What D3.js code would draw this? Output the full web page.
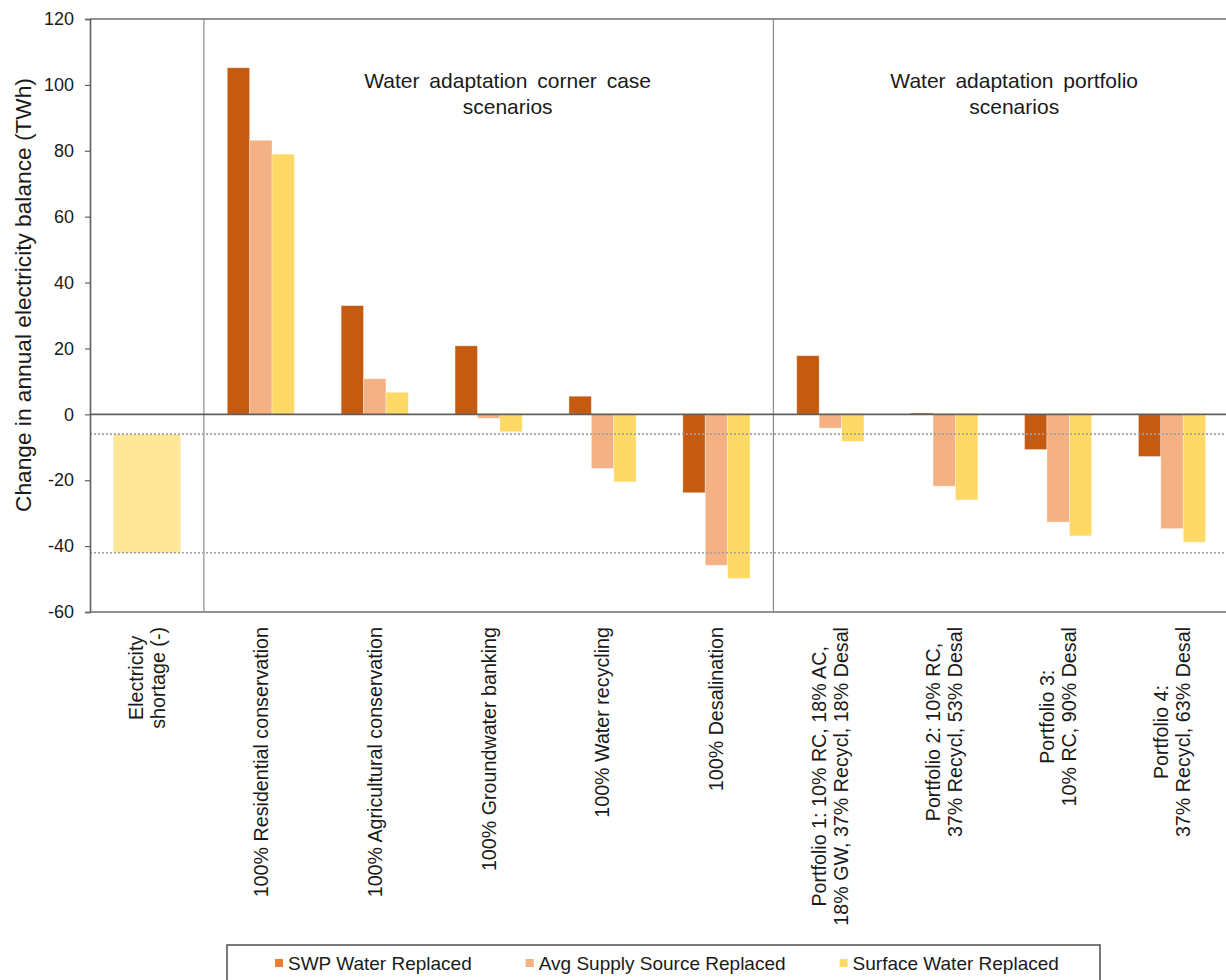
<!DOCTYPE html>
<html>
<head>
<meta charset="utf-8">
<script src="https://cdn.jsdelivr.net/npm/d3@7"></script>
<style>
  html, body { margin: 0; padding: 0; background: #fff; }
  svg { display: block; font-family: "Liberation Sans", Arial, sans-serif; }
</style>
</head>
<body>
<svg id="chart" width="1226" height="980"></svg>
<script>
// Scenario categories (each entry is the list of label lines)
const categories = [
  ["Electricity", "shortage (-)"],
  ["100% Residential conservation"],
  ["100% Agricultural conservation"],
  ["100% Groundwater banking"],
  ["100% Water recycling"],
  ["100% Desalination"],
  ["Portfolio 1: 10% RC, 18% AC,", "18% GW, 37% Recycl, 18% Desal"],
  ["Portfolio 2: 10% RC,", "37% Recycl, 53% Desal"],
  ["Portfolio 3:", "10% RC, 90% Desal"],
  ["Portfolio 4:", "37% Recycl, 63% Desal"]
];

// Change in annual electricity balance (TWh) per scenario
const swpWater     = [null, 105.2, 33.0, 20.8, 5.5, -23.8, 17.8, 0.4, -10.7, -12.8];
const avgSupply    = [null, 83.2, 10.8, -1.2, -16.4, -45.8, -4.2, -21.8, -32.7, -34.7];
const surfaceWater = [null, 79.0, 6.7, -5.3, -20.5, -49.8, -8.2, -26.0, -36.9, -38.8];

// Electricity shortage range (TWh), drawn as a floating bar and reference lines
const shortageRange = [-6, -42];

const seriesNames = ["SWP Water Replaced", "Avg Supply Source Replaced", "Surface Water Replaced"];
const seriesValues = [swpWater, avgSupply, surfaceWater];
const barColors = ["#C55A11", "#F4B183", "#FFD966"];
const legendColors = ["#ED7D31", "#F4B183", "#FFD966"];
const shortageColor = "#FFE699";

const yTicks = [-60, -40, -20, 0, 20, 40, 60, 80, 100, 120];

// Section headings placed above the scenario groups (shift = horizontal nudge in px)
const sections = [
  { lines: ["Water adaptation corner case", "scenarios"], from: 1, to: 5, shift: 19 },
  { lines: ["Water adaptation portfolio", "scenarios"], from: 6, to: 9, shift: 13 }
];

const svg = d3.select("#chart");
const plot = { left: 90, right: 1229, top: 19, bottom: 612 };

const x = d3.scaleBand()
  .domain(d3.range(categories.length))
  .range([plot.left, plot.right])
  .paddingInner(0.41)
  .paddingOuter(0.205);

const xSub = d3.scaleBand()
  .domain(d3.range(seriesNames.length))
  .range([0, x.bandwidth()]);

const y = d3.scaleLinear()
  .domain([-60, 120])
  .range([plot.bottom, plot.top]);

const step = x.step();
const cellLeft = i => x(i) - (step - x.bandwidth()) / 2;

// Frame: top and bottom borders
svg.append("line")
  .attr("x1", plot.left).attr("x2", plot.right)
  .attr("y1", plot.top).attr("y2", plot.top)
  .attr("stroke", "#6e6e6e").attr("stroke-width", 1.5);
svg.append("line")
  .attr("x1", plot.left).attr("x2", plot.right)
  .attr("y1", plot.bottom).attr("y2", plot.bottom)
  .attr("stroke", "#6e6e6e").attr("stroke-width", 1.5);

// Section separators between scenario groups
[1, 6].forEach(i => {
  svg.append("line")
    .attr("x1", cellLeft(i)).attr("x2", cellLeft(i))
    .attr("y1", plot.top).attr("y2", plot.bottom)
    .attr("stroke", "#8c8c8c").attr("stroke-width", 1.2);
});

// Shortage floating bar
svg.append("rect")
  .attr("x", x(0))
  .attr("width", x.bandwidth())
  .attr("y", y(d3.max(shortageRange)))
  .attr("height", y(d3.min(shortageRange)) - y(d3.max(shortageRange)))
  .attr("fill", shortageColor);

// Scenario bars
const barData = [];
seriesValues.forEach((vals, s) => {
  vals.forEach((v, i) => { if (v !== null) barData.push({ i, s, v }); });
});
svg.append("g").selectAll("rect")
  .data(barData)
  .join("rect")
  .attr("x", d => x(d.i) + xSub(d.s))
  .attr("width", xSub.bandwidth())
  .attr("y", d => y(Math.max(0, d.v)))
  .attr("height", d => Math.abs(y(d.v) - y(0)))
  .attr("fill", d => barColors[d.s])
  .attr("stroke", "#ffffff")
  .attr("stroke-opacity", 0.45)
  .attr("stroke-width", 0.8);

// Dotted reference lines at the shortage bounds
svg.append("g").selectAll("line")
  .data(shortageRange)
  .join("line")
  .attr("x1", plot.left).attr("x2", plot.right)
  .attr("y1", d => y(d)).attr("y2", d => y(d))
  .attr("stroke", "#a0a0a0")
  .attr("stroke-width", 1.6)
  .attr("stroke-dasharray", "2,2");

// Zero line
svg.append("line")
  .attr("x1", plot.left).attr("x2", plot.right)
  .attr("y1", y(0)).attr("y2", y(0))
  .attr("stroke", "#5f5f5f").attr("stroke-width", 1.6);

// Y axis (plain hyphen for negative numbers)
const yAxis = svg.append("g")
  .attr("transform", `translate(${plot.left},0)`)
  .call(d3.axisLeft(y).tickValues(yTicks).tickFormat(d => String(d)).tickSize(5).tickPadding(11));
yAxis.select(".domain").attr("stroke", "#5f5f5f").attr("stroke-width", 1.6);
yAxis.selectAll(".tick line").attr("stroke", "#5f5f5f").attr("stroke-width", 1.2);
yAxis.selectAll(".tick text")
  .attr("font-size", 18)
  .attr("fill", "#1a1a1a")
  .attr("font-family", "Liberation Sans, Arial, sans-serif");

// Y axis title
svg.append("text")
  .attr("transform", `translate(23,${(78 + 512) / 2}) rotate(-90)`)
  .attr("text-anchor", "middle")
  .attr("dy", "0.35em")
  .attr("font-size", 22.7)
  .attr("fill", "#1a1a1a")
  .text("Change in annual electricity balance (TWh)");

// Category labels, rotated, block top-aligned under the axis
const labelTop = 627;
const lineH = 22;
categories.forEach((lines, i) => {
  const g = svg.append("g")
    .attr("transform", `translate(${x(i) + x.bandwidth() / 2},${labelTop}) rotate(-90)`);
  const texts = lines.map((ln, k) => g.append("text")
    .attr("font-size", 19.7)
    .attr("fill", "#1a1a1a")
    .attr("text-anchor", "middle")
    .attr("dy", "0.35em")
    .attr("y", (k - (lines.length - 1) / 2) * lineH)
    .text(ln));
  const maxLen = d3.max(texts, t => t.node().getComputedTextLength());
  texts.forEach(t => t.attr("x", -maxLen / 2));
});

// Section headings
sections.forEach(sec => {
  const cx = (x(sec.from) + x(sec.to) + x.bandwidth()) / 2 + sec.shift;
  const t = svg.append("text")
    .attr("text-anchor", "middle")
    .attr("font-size", 21)
    .attr("word-spacing", 4)
    .attr("fill", "#1a1a1a");
  sec.lines.forEach((ln, k) => {
    t.append("tspan").attr("x", cx).attr("y", 88 + k * 26).text(ln);
  });
});

// Legend
const legendBox = { left: 227, top: 945, right: 1100 };
svg.append("rect")
  .attr("x", legendBox.left).attr("y", legendBox.top)
  .attr("width", legendBox.right - legendBox.left)
  .attr("height", 60)
  .attr("fill", "#fff")
  .attr("stroke", "#4d4d4d")
  .attr("stroke-width", 1.5);

let lx = 275;
seriesNames.forEach((name, s) => {
  svg.append("rect")
    .attr("x", lx).attr("y", 959)
    .attr("width", 8).attr("height", 8)
    .attr("fill", legendColors[s]);
  const t = svg.append("text")
    .attr("x", lx + 13).attr("y", 970)
    .attr("font-size", 19)
    .attr("fill", "#1a1a1a")
    .text(name);
  lx += 13 + t.node().getComputedTextLength() + 54;
});
</script>
</body>
</html>
